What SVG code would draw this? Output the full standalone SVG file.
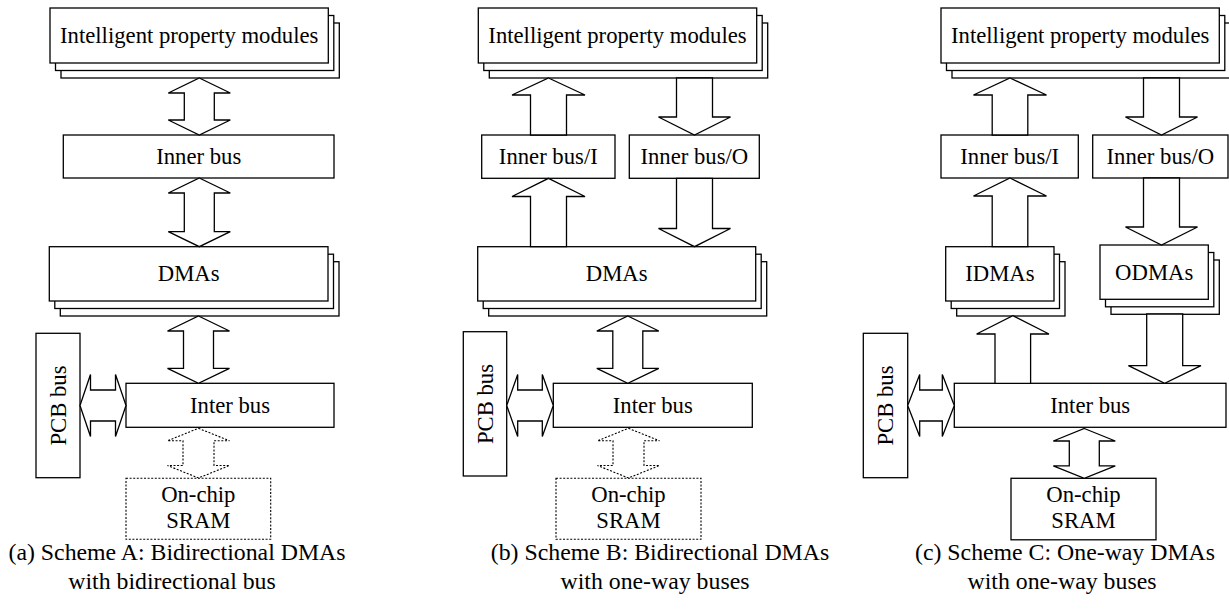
<svg xmlns="http://www.w3.org/2000/svg" width="1229" height="616" viewBox="0 0 1229 616">
<style>
.b{fill:#fff;stroke:#000;stroke-width:1.3}
.d{fill:#fff;stroke:#000;stroke-width:1.1;stroke-dasharray:2 1.6}
.a{fill:#fff;stroke:#000;stroke-width:1.3;stroke-linejoin:miter}
.ad{fill:none;stroke:#000;stroke-width:1.1;stroke-dasharray:2 1.6}
text{font-family:"Liberation Serif","Times New Roman",serif;font-size:22.7px;fill:#000;text-anchor:middle}
.cap{font-size:23.8px}
</style>
<rect width="1229" height="616" fill="#fff"/>

<!-- Panel A -->
<g id="a-ip">
<rect class="b" x="61" y="23" width="278.3" height="55"/>
<rect class="b" x="55.5" y="15.5" width="278.3" height="55"/>
<rect class="b" x="50" y="8" width="278.3" height="55"/>
<text x="189.2" y="43.2">Intelligent property modules</text>
</g>
<g id="a-innerbus">
<rect class="b" x="63.3" y="135" width="270.7" height="43"/>
<text x="198.7" y="164">Inner bus</text>
</g>
<g id="a-dmas">
<rect class="b" x="60.3" y="261.7" width="278.7" height="54.3"/>
<rect class="b" x="54.8" y="254.2" width="278.7" height="54.3"/>
<rect class="b" x="49.3" y="246.7" width="278.7" height="54.3"/>
<text x="188.7" y="281">DMAs</text>
</g>
<g id="a-interbus">
<rect class="b" x="126" y="383.3" width="208" height="44"/>
<text x="230" y="413">Inter bus</text>
</g>
<g id="a-pcb">
<rect class="b" x="36" y="333.3" width="44" height="144.4"/>
<text transform="translate(65.5,405.5) rotate(-90)">PCB bus</text>
</g>
<g id="a-sram">
<rect class="d" x="126" y="478.3" width="144.7" height="61"/>
<text x="198.3" y="502.3">On-chip</text>
<text x="198.3" y="528.3">SRAM</text>
</g>
<g id="a-caption">
<text class="cap" x="177" y="560">(a) Scheme A: Bidirectional DMAs</text>
<text class="cap" x="172" y="589.3">with bidirectional bus</text>
</g>

<!-- Panel B -->
<g id="b-ip">
<rect class="b" x="489.3" y="23" width="278.4" height="55"/>
<rect class="b" x="483.8" y="15.5" width="278.4" height="55"/>
<rect class="b" x="478.3" y="8" width="278.4" height="55"/>
<text x="617.5" y="43.2">Intelligent property modules</text>
</g>
<g id="b-innerbus-i">
<rect class="b" x="481.7" y="135" width="133.3" height="43.3"/>
<text x="548.3" y="164">Inner bus/I</text>
</g>
<g id="b-innerbus-o">
<rect class="b" x="629.3" y="135" width="130" height="43.3"/>
<text x="694.3" y="164">Inner bus/O</text>
</g>
<g id="b-dmas">
<rect class="b" x="488.7" y="261.7" width="278" height="54.3"/>
<rect class="b" x="483.2" y="254.2" width="278" height="54.3"/>
<rect class="b" x="477.7" y="246.7" width="278" height="54.3"/>
<text x="616.7" y="281">DMAs</text>
</g>
<g id="b-interbus">
<rect class="b" x="553.3" y="383.3" width="199" height="44"/>
<text x="652.8" y="413">Inter bus</text>
</g>
<g id="b-pcb">
<rect class="b" x="463.3" y="331.7" width="43.4" height="144.3"/>
<text transform="translate(492.5,404) rotate(-90)">PCB bus</text>
</g>
<g id="b-sram">
<rect class="d" x="556" y="478.3" width="145" height="61"/>
<text x="628.5" y="502.3">On-chip</text>
<text x="628.5" y="528.3">SRAM</text>
</g>
<g id="b-caption">
<text class="cap" x="660" y="560">(b) Scheme B: Bidirectional DMAs</text>
<text class="cap" x="655" y="589.3">with one-way buses</text>
</g>

<!-- Panel C -->
<g id="c-ip">
<rect class="b" x="952" y="23" width="278.3" height="55"/>
<rect class="b" x="946.5" y="15.5" width="278.3" height="55"/>
<rect class="b" x="941" y="8" width="278.3" height="55"/>
<text x="1080.2" y="43.2">Intelligent property modules</text>
</g>
<g id="c-innerbus-i">
<rect class="b" x="941" y="135" width="137.3" height="43"/>
<text x="1009.7" y="164">Inner bus/I</text>
</g>
<g id="c-innerbus-o">
<rect class="b" x="1092.7" y="135" width="135.3" height="43"/>
<text x="1160.4" y="164">Inner bus/O</text>
</g>
<g id="c-idmas">
<rect class="b" x="956.7" y="261.7" width="108.3" height="54.3"/>
<rect class="b" x="951.2" y="254.2" width="108.3" height="54.3"/>
<rect class="b" x="945.7" y="246.7" width="108.3" height="54.3"/>
<text x="999.9" y="281">IDMAs</text>
</g>
<g id="c-odmas">
<rect class="b" x="1111" y="260" width="108.3" height="54.3"/>
<rect class="b" x="1105.5" y="252.5" width="108.3" height="54.3"/>
<rect class="b" x="1100" y="245" width="108.3" height="54.3"/>
<text x="1154.2" y="279.5">ODMAs</text>
</g>
<g id="c-interbus">
<rect class="b" x="954.3" y="383.3" width="271.7" height="44"/>
<text x="1090.2" y="413">Inter bus</text>
</g>
<g id="c-pcb">
<rect class="b" x="863.3" y="333.3" width="44.4" height="144.4"/>
<text transform="translate(893,405.5) rotate(-90)">PCB bus</text>
</g>
<g id="c-sram">
<rect class="b" x="1011" y="478.3" width="145" height="61.5"/>
<text x="1083.5" y="502.3">On-chip</text>
<text x="1083.5" y="528.3">SRAM</text>
</g>
<g id="c-caption">
<text class="cap" x="1065" y="560">(c) Scheme C: One-way DMAs</text>
<text class="cap" x="1062" y="589.3">with one-way buses</text>
</g>

<g id="connectors">
<!-- Panel A -->
<path class="a" d="M199.3,78 L230.3,93 L214.3,93 L214.3,120 L230.3,120 L199.3,135 L168.3,120 L184.3,120 L184.3,93 L168.3,93 Z"/>
<path class="a" d="M199.3,178 L230.3,193 L214.3,193 L214.3,231.7 L230.3,231.7 L199.3,246.7 L168.3,231.7 L184.3,231.7 L184.3,193 L168.3,193 Z"/>
<path class="a" d="M198.5,316 L229.5,331 L213.5,331 L213.5,368.3 L229.5,368.3 L198.5,383.3 L167.5,368.3 L183.5,368.3 L183.5,331 L167.5,331 Z"/>
<path class="a" d="M80,405.5 L90.5,374.5 L90.5,390 L115.5,390 L115.5,374.5 L126,405.5 L115.5,436.5 L115.5,421 L90.5,421 L90.5,436.5 Z"/>
<path class="ad" d="M198.5,428.3 L229.5,440.8 L214,440.8 L214,465.5 L229.5,465.5 L198.5,478 L167.5,465.5 L183,465.5 L183,440.8 L167.5,440.8 Z"/>
<!-- Panel B -->
<path class="a" d="M548.5,78 L585,95 L566.5,95 L566.5,135 L530.5,135 L530.5,95 L512,95 Z"/>
<path class="a" d="M676.5,78 L712.5,78 L712.5,117 L730.5,117 L694.5,135 L658.5,117 L676.5,117 Z"/>
<path class="a" d="M548.5,178.3 L585,196.5 L566.5,196.5 L566.5,246.7 L530.5,246.7 L530.5,196.5 L512,196.5 Z"/>
<path class="a" d="M676.5,178.3 L712.5,178.3 L712.5,228.5 L730.5,228.5 L694.5,246.7 L658.5,228.5 L676.5,228.5 Z"/>
<path class="a" d="M627.8,316 L658.8,331 L642.8,331 L642.8,368.3 L658.8,368.3 L627.8,383.3 L596.8,368.3 L612.8,368.3 L612.8,331 L596.8,331 Z"/>
<path class="a" d="M506.7,405.5 L517.7,374.5 L517.7,390 L542.3,390 L542.3,374.5 L553.3,405.5 L542.3,436.5 L542.3,421 L517.7,421 L517.7,436.5 Z"/>
<path class="ad" d="M628.5,428.3 L659.5,440.8 L644,440.8 L644,465.5 L659.5,465.5 L628.5,478 L597.5,465.5 L613,465.5 L613,440.8 L597.5,440.8 Z"/>
<!-- Panel C -->
<path class="a" d="M1010,78 L1046.5,95 L1027.8,95 L1027.8,135 L992.2,135 L992.2,95 L973.5,95 Z"/>
<path class="a" d="M1143.5,78 L1179.5,78 L1179.5,117 L1197.5,117 L1161.5,135 L1125.5,117 L1143.5,117 Z"/>
<path class="a" d="M1010,178 L1046.5,196 L1027.8,196 L1027.8,246.7 L992.2,246.7 L992.2,196 L973.5,196 Z"/>
<path class="a" d="M1143.5,178 L1179.5,178 L1179.5,227 L1197.5,227 L1161.5,245 L1125.5,227 L1143.5,227 Z"/>
<path class="a" d="M1012.8,315.7 L1049,334 L1030.6,334 L1030.6,383.3 L995,383.3 L995,334 L976.6,334 Z"/>
<path class="a" d="M1146.7,314 L1182.7,314 L1182.7,365.7 L1201,365.7 L1164.7,383.3 L1128.4,365.7 L1146.7,365.7 Z"/>
<path class="a" d="M907.7,405.5 L919.7,374.5 L919.7,390 L942.3,390 L942.3,374.5 L954.3,405.5 L942.3,436.5 L942.3,421 L919.7,421 L919.7,436.5 Z"/>
<path class="a" d="M1084.3,428.5 L1115.3,441 L1099.3,441 L1099.3,465.8 L1115.3,465.8 L1084.3,478.3 L1053.3,465.8 L1069.3,465.8 L1069.3,441 L1053.3,441 Z"/>
</g>
</svg>
